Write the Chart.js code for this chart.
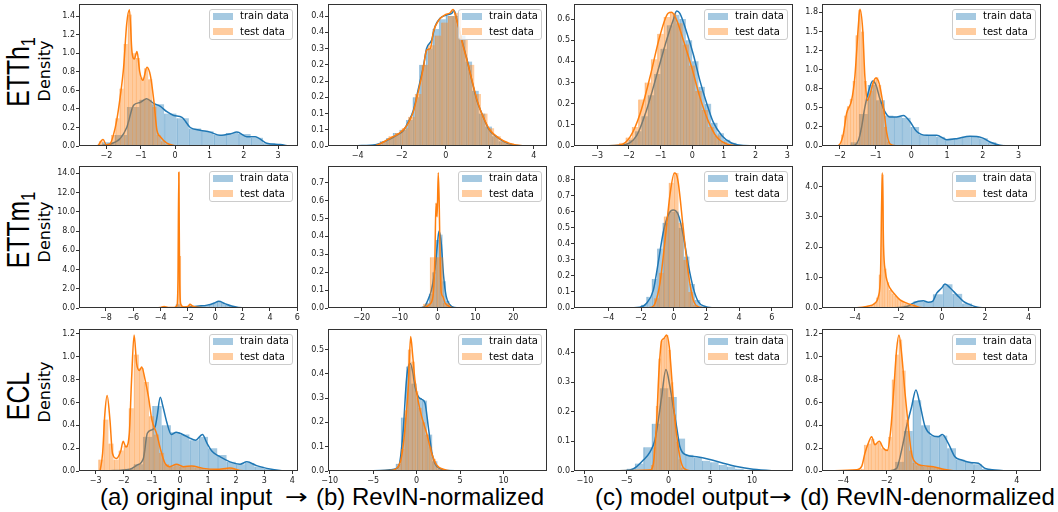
<!DOCTYPE html>
<html lang="en">
<head>
<meta charset="UTF-8">
<title>RevIN train / test distributions</title>
<script src="https://cdn.jsdelivr.net/npm/chart.js"></script>
<style>
  html, body { margin: 0; padding: 0; background: #fff; }
  #fig { position: relative; width: 1058px; height: 512px; overflow: hidden; }
  canvas { position: absolute; }
  .legend { position: absolute; width: 84px; height: 31px; box-sizing: border-box; border: 1px solid #ccc;
            border-radius: 3px; background: rgba(255,255,255,0.8); font-family: 'DejaVu Sans', sans-serif;
            font-size: 10px; color: #000; }
  .legend .patch { position: absolute; left: 3px; width: 20px; height: 7px; }
  .legend .lab { position: absolute; left: 30px; line-height: 12px; white-space: nowrap; }
  .rot { position: absolute; white-space: nowrap; line-height: 1; }
  .row { font-family: 'Liberation Sans', Arial, sans-serif; font-size: 31px; color: #000;
         transform: translate(-50%, -50%) rotate(-90deg) scaleX(0.8); }
  .row span { font-size: 0.65em; position: relative; top: 0.3em; }
  .dens { font-family: 'DejaVu Sans', sans-serif; font-size: 16px; color: #000;
          transform: translate(-50%, -50%) rotate(-90deg); }
  .cap { position: absolute; top: 485px; font-family: 'Liberation Sans', Arial, sans-serif; font-size: 24px;
         line-height: 24px; white-space: nowrap; color: #000; }
  .arrow { position: absolute; top: 485px; font-family: 'DejaVu Sans', sans-serif; font-size: 21px;
           line-height: 24px; color: #000; transform: scaleX(1.3); transform-origin: left center; }
</style>
</head>
<body>
<div id="fig">
  <div class="rot row" style="left:18px; top:72px">ETTh<span>1</span></div>
  <div class="rot dens" style="left:45px; top:71px">Density</div>
  <div class="rot row" style="left:18px; top:230px">ETTm<span>1</span></div>
  <div class="rot dens" style="left:45px; top:232px">Density</div>
  <div class="rot row" style="left:18px; top:396px">ECL</div>
  <div class="rot dens" style="left:45px; top:392px">Density</div>

  <div class="cap" style="left:100px">(a) original input</div>
  <div class="arrow" style="left:285px">→</div>
  <div class="cap" style="left:316px">(b) RevIN-normalized</div>
  <div class="cap" style="left:595px">(c) model output</div>
  <div class="arrow" style="left:769px">→</div>
  <div class="cap" style="left:800px">(d) RevIN-denormalized</div>
</div>

<script>
    const seriesNames = ['train data', 'test data'];

    // ---------- ETTh1 ----------
    // bins are [first left edge, bin width]
    const ethATrainBins = [-2.48, 0.36];
    const ethATrainHist = [0.01, 0.04, 0.12, 0.42, 0.50, 0.45, 0.35, 0.30, 0.19, 0.16, 0.12, 0.14, 0.13, 0.09, 0.03, 0.01];
    const ethATestBins = [-2.22, 0.12];
    const ethATestHist = [0.05, 0.02, 0.03, 0.12, 0.30, 0.62, 1.10, 1.42, 1.00, 0.95, 0.74, 0.84, 0.72, 0.42, 0.12, 0.05, 0.02, 0.01];
    const ethATrainKde = [[-2.5,0],[-2.3,0.003],[-1.9,0.02],[-1.6,0.08],[-1.41,0.2],[-1.21,0.44],[-1.02,0.47],[-0.83,0.51],[-0.63,0.46],[-0.44,0.43],[-0.24,0.37],[-0.04,0.33],[0.2,0.31],[0.44,0.2],[0.73,0.17],[1.02,0.15],[1.31,0.115],[1.6,0.13],[1.8,0.15],[2.09,0.1],[2.33,0.1],[2.67,0.03],[3.06,0.015],[3.3,0]];
    const ethATestKde = [[-2.25,0],[-2.1,0.07],[-2.0,0.01],[-1.9,0.02],[-1.8,0.115],[-1.7,0.28],[-1.6,0.53],[-1.5,0.85],[-1.41,1.32],[-1.33,1.47],[-1.26,1.03],[-1.19,0.94],[-1.11,1.02],[-1.03,0.8],[-0.94,0.71],[-0.82,0.85],[-0.72,0.76],[-0.62,0.49],[-0.53,0.17],[-0.43,0.1],[-0.24,0.03],[-0.04,0.005],[0.1,0]];
    const ethAXTicks = [-2, -1, 0, 1, 2, 3];
    const ethAYTicks = [0, 0.2, 0.4, 0.6, 0.8, 1.0, 1.2, 1.4];
    const ethAYLabels = ['0.0', '0.2', '0.4', '0.6', '0.8', '1.0', '1.2', '1.4'];

    const ethBTrainBins = [-3.3, 0.3];
    const ethBTrainHist = [0.005, 0.015, 0.025, 0.04, 0.05, 0.08, 0.15, 0.25, 0.30, 0.36, 0.39, 0.40, 0.40, 0.34, 0.26, 0.17, 0.10, 0.06, 0.03, 0.015, 0.008, 0.004, 0.002];
    const ethBTestBins = [-3.2, 0.3];
    const ethBTestHist = [0.005, 0.015, 0.03, 0.04, 0.055, 0.09, 0.16, 0.25, 0.31, 0.34, 0.38, 0.40, 0.41, 0.33, 0.25, 0.16, 0.10, 0.055, 0.03, 0.015, 0.008, 0.004, 0.002];
    const ethBTrainKde = [[-5.1,0],[-4,0.001],[-3.14,0.005],[-2.68,0.017],[-2.23,0.033],[-1.92,0.048],[-1.7,0.074],[-1.47,0.11],[-1.24,0.177],[-1.02,0.244],[-0.87,0.30],[-0.64,0.326],[-0.49,0.367],[-0.26,0.393],[0.04,0.403],[0.27,0.408],[0.38,0.417],[0.5,0.388],[0.73,0.326],[0.95,0.27],[1.18,0.203],[1.41,0.141],[1.64,0.10],[1.94,0.053],[2.32,0.028],[2.77,0.009],[3.38,0.001],[4.0,0]];
    const ethBTestKde = [[-3.2,0],[-2.9,0.01],[-2.5,0.025],[-2.1,0.04],[-1.8,0.06],[-1.5,0.1],[-1.24,0.17],[-1.02,0.24],[-0.87,0.295],[-0.7,0.30],[-0.56,0.352],[-0.31,0.388],[-0.05,0.403],[0.2,0.41],[0.33,0.42],[0.45,0.40],[0.6,0.36],[0.82,0.30],[1.0,0.255],[1.2,0.2],[1.45,0.135],[1.7,0.09],[2.0,0.05],[2.4,0.025],[2.9,0.008],[3.5,0.001],[4.2,0]];
    const ethBXTicks = [-4, -2, 0, 2, 4];
    const ethBYTicks = [0, 0.05, 0.10, 0.15, 0.20, 0.25, 0.30, 0.35, 0.40];
    const ethBYLabels = ['0.0', '0.1', '0.1', '0.2', '0.2', '0.2', '0.3', '0.4', '0.4'];

    const ethCTrainBins = [-2.4, 0.2];
    const ethCTrainHist = [0.005, 0.01, 0.03, 0.07, 0.14, 0.24, 0.34, 0.46, 0.57, 0.62, 0.60, 0.50, 0.40, 0.28, 0.20, 0.11, 0.06, 0.03, 0.015, 0.005, 0.002];
    const ethCTestBins = [-2.5, 0.2];
    const ethCTestHist = [0.005, 0.015, 0.04, 0.09, 0.22, 0.30, 0.41, 0.53, 0.61, 0.63, 0.58, 0.48, 0.38, 0.26, 0.17, 0.09, 0.05, 0.02, 0.008, 0.002];
    const ethCTrainKde = [[-3.4,0],[-2.17,0.005],[-1.75,0.05],[-1.44,0.17],[-1.12,0.335],[-0.81,0.5],[-0.6,0.595],[-0.49,0.638],[-0.39,0.627],[-0.18,0.54],[0.04,0.43],[0.24,0.31],[0.46,0.2],[0.66,0.114],[0.93,0.05],[1.24,0.014],[1.61,0.002],[2.9,0]];
    const ethCTestKde = [[-3.3,0],[-2.28,0.005],[-1.96,0.043],[-1.65,0.15],[-1.33,0.327],[-1.02,0.52],[-0.76,0.627],[-0.65,0.632],[-0.49,0.595],[-0.28,0.5],[-0.02,0.374],[0.24,0.232],[0.5,0.12],[0.77,0.043],[1.08,0.01],[1.4,0.001],[2.8,0]];
    const ethCXTicks = [-3, -2, -1, 0, 1, 2, 3];
    const ethCYTicks = [0, 0.1, 0.2, 0.3, 0.4, 0.5, 0.6];
    const ethCYLabels = ['0.0', '0.1', '0.2', '0.3', '0.4', '0.5', '0.6'];

    const ethDTrainBins = [-1.7, 0.24];
    const ethDTrainHist = [0.05, 0.42, 0.80, 0.60, 0.40, 0.38, 0.37, 0.25, 0.15, 0.14, 0.12, 0.09, 0.10, 0.12, 0.12, 0.10, 0.05, 0.015, 0.005, 0.002, 0.001];
    const ethDTestBins = [-2.04, 0.08];
    const ethDTestHist = [0.02, 0.15, 0.40, 0.52, 0.62, 0.85, 1.45, 1.78, 1.50, 0.85, 0.62, 0.72, 0.86, 0.90, 0.80, 0.55, 0.25, 0.06, 0.01];
    const ethDTrainKde = [[-2.2,0],[-1.62,0.005],[-1.48,0.075],[-1.39,0.25],[-1.3,0.51],[-1.2,0.71],[-1.08,0.85],[-0.99,0.8],[-0.88,0.62],[-0.74,0.45],[-0.6,0.38],[-0.41,0.38],[-0.22,0.40],[-0.04,0.32],[0.15,0.19],[0.43,0.14],[0.71,0.14],[0.99,0.083],[1.27,0.096],[1.64,0.127],[1.97,0.11],[2.2,0.053],[2.48,0.01],[2.76,0.002],[3.3,0]];
    const ethDTestKde = [[-2.2,0],[-2.05,0.005],[-1.91,0.14],[-1.81,0.43],[-1.67,0.6],[-1.58,0.91],[-1.48,1.59],[-1.44,1.79],[-1.36,1.52],[-1.3,0.91],[-1.23,0.6],[-1.16,0.67],[-1.06,0.84],[-0.99,0.89],[-0.9,0.82],[-0.78,0.51],[-0.69,0.18],[-0.6,0.03],[-0.41,0.002],[-0.3,0]];
    const ethDXTicks = [-2, -1, 0, 1, 2, 3];
    const ethDYTicks = [0, 0.25, 0.5, 0.75, 1.0, 1.25, 1.5, 1.75];
    const ethDYLabels = ['0.0', '0.2', '0.5', '0.8', '1.0', '1.2', '1.5', '1.8'];

    // ---------- ETTm1 ----------
    const etmATrainBins = [-4.4, 0.3];
    const etmATrainHist = [0.01, 0.01, 0.02, 0.02, 0.03, 0.40, 0.05, 0.07, 0.11, 0.15, 0.19, 0.24, 0.30, 0.40, 0.56, 0.68, 0.52, 0.36, 0.20, 0.10, 0.04, 0.01];
    const etmATestBins = [-4.0, 0.1];
    const etmATestHist = [0.02, 0.08, 0.15, 0.1, 0.05, 0.04, 0.04, 0.05, 0.05, 0.06, 0.1, 0.2, 0.5, 14.1, 5.4, 0.2, 0.1, 0.1, 0.12, 0.15, 0.25, 0.38, 0.3, 0.18, 0.12, 0.08, 0.06, 0.04];
    const etmATrainKde = [[-9.2,0],[-4,0.01],[-2.5,0.05],[-1.8,0.12],[-1.2,0.2],[-0.6,0.3],[-0.1,0.5],[0.25,0.7],[0.7,0.45],[1.2,0.2],[1.7,0.06],[2.3,0.01],[3.5,0],[5.8,0]];
    const etmATestKde = [[-6,0],[-4.5,0.01],[-4,0.05],[-3.75,0.15],[-3.45,0.06],[-3.0,0.06],[-2.8,0.3],[-2.73,3.0],[-2.67,14.1],[-2.61,3.0],[-2.52,0.4],[-2.3,0.1],[-2.0,0.15],[-1.85,0.38],[-1.65,0.2],[-1.3,0.08],[-0.8,0.03],[0,0.005],[1,0]];
    const etmAXTicks = [-8, -6, -4, -2, 0, 2, 4, 6];
    const etmAYTicks = [0, 2, 4, 6, 8, 10, 12, 14];
    const etmAYLabels = ['0.0', '2.0', '4.0', '6.0', '8.0', '10.0', '12.0', '14.0'];

    const etmBTrainBins = [-4.05, 0.9];
    const etmBTrainHist = [0.01, 0.03, 0.08, 0.2, 0.38, 0.41, 0.15, 0.04, 0.01, 0.003];
    const etmBTestBins = [-5.5, 1.76];
    const etmBTestHist = [0.003, 0.024, 0.284, 0.284, 0.028, 0.004];
    const etmBTrainKde = [[-26,0],[-8,0.001],[-4,0.003],[-3.4,0.008],[-2.5,0.046],[-1.6,0.1],[-0.7,0.21],[-0.1,0.34],[0.4,0.43],[1.0,0.36],[1.6,0.18],[2.3,0.065],[3.2,0.02],[4.5,0.003],[8,0.001],[26,0]];
    const etmBTestKde = [[-26,0],[-8,0.001],[-3.4,0.003],[-2.1,0.02],[-1.2,0.065],[-0.7,0.27],[-0.4,0.585],[-0.1,0.51],[0.2,0.756],[0.45,0.585],[0.7,0.27],[1.0,0.084],[1.4,0.065],[2.0,0.028],[3.0,0.01],[4,0.002],[8,0.001],[26,0]];
    const etmBXTicks = [-20, -10, 0, 10, 20];
    const etmBYTicks = [0, 0.1, 0.2, 0.3, 0.4, 0.5, 0.6, 0.7];
    const etmBYLabels = ['0.0', '0.1', '0.2', '0.3', '0.4', '0.5', '0.6', '0.7'];

    const etmCTrainBins = [-2.0, 0.33];
    const etmCTrainHist = [0.02, 0.07, 0.18, 0.37, 0.53, 0.60, 0.60, 0.50, 0.32, 0.15, 0.05, 0.015];
    const etmCTestBins = [-1.5, 0.3];
    const etmCTestHist = [0.01, 0.06, 0.22, 0.57, 0.78, 0.84, 0.53, 0.30, 0.10, 0.02];
    const etmCTrainKde = [[-5.5,0],[-3,0.001],[-2.07,0.005],[-1.66,0.03],[-1.25,0.11],[-0.95,0.28],[-0.64,0.47],[-0.33,0.58],[-0.03,0.61],[0.28,0.58],[0.58,0.455],[0.89,0.27],[1.2,0.124],[1.5,0.04],[1.91,0.01],[2.4,0.002],[3.5,0],[6.8,0]];
    const etmCTestKde = [[-5.5,0],[-1.45,0.002],[-1.14,0.03],[-0.84,0.155],[-0.53,0.42],[-0.22,0.71],[0.04,0.84],[0.15,0.835],[0.28,0.78],[0.58,0.5],[0.89,0.22],[1.2,0.05],[1.6,0.005],[2.0,0],[6.8,0]];
    const etmCXTicks = [-4, -2, 0, 2, 4, 6];
    const etmCYTicks = [0, 0.1, 0.2, 0.3, 0.4, 0.5, 0.6, 0.7, 0.8];
    const etmCYLabels = ['0.0', '0.1', '0.2', '0.3', '0.4', '0.5', '0.6', '0.7', '0.8'];

    const etmDTrainBins = [-2.2, 0.45];
    const etmDTrainHist = [0.02, 0.08, 0.22, 0.20, 0.45, 0.78, 0.47, 0.15, 0.03];
    const etmDTestBins = [-3.5, 0.12];
    const etmDTestHist = [0.04, 0.06, 0.1, 0.16, 0.35, 1.1, 4.4, 1.3, 0.85, 0.6, 0.48, 0.4, 0.32, 0.26, 0.2, 0.16, 0.13, 0.1, 0.08, 0.05];
    const etmDTrainKde = [[-2.4,0],[-1.61,0.05],[-1.31,0.16],[-1.08,0.22],[-0.85,0.24],[-0.62,0.19],[-0.42,0.22],[-0.23,0.49],[0.0,0.66],[0.15,0.79],[0.39,0.66],[0.69,0.44],[1.0,0.22],[1.3,0.11],[1.61,0.03],[1.92,0.005],[2.2,0]];
    const etmDTestKde = [[-5.2,0],[-3.92,0.01],[-3.46,0.05],[-3.08,0.16],[-2.92,0.38],[-2.82,1.15],[-2.74,4.46],[-2.68,2.0],[-2.6,1.2],[-2.5,0.85],[-2.39,0.66],[-2.15,0.44],[-1.92,0.27],[-1.61,0.16],[-1.31,0.09],[-1.0,0.02],[-0.54,0]];
    const etmDXTicks = [-4, -2, 0, 2, 4];
    const etmDYTicks = [0, 1, 2, 3, 4];
    const etmDYLabels = ['0.0', '1.0', '2.0', '3.0', '4.0'];

    // ---------- ECL ----------
    const eclATrainBins = [-2.3, 0.33];
    const eclATrainHist = [0.005, 0.02, 0.06, 0.30, 0.57, 0.40, 0.34, 0.32, 0.27, 0.30, 0.20, 0.14, 0.08, 0.06, 0.07, 0.04, 0.02, 0.005];
    const eclATestBins = [-2.9, 0.18];
    const eclATestHist = [0.1, 0.45, 0.24, 0.1, 0.18, 0.22, 0.55, 1.02, 0.90, 0.78, 0.48, 0.32, 0.16, 0.06, 0.04, 0.05, 0.04, 0.04, 0.04, 0.03, 0.02, 0.015, 0.015, 0.015, 0.02, 0.025, 0.02];
    const eclATrainKde = [[-3.2,0],[-2.49,0.003],[-1.78,0.015],[-1.54,0.05],[-1.3,0.11],[-1.16,0.33],[-1.0,0.36],[-0.88,0.39],[-0.81,0.48],[-0.7,0.645],[-0.6,0.56],[-0.46,0.42],[-0.31,0.32],[-0.13,0.34],[0.1,0.32],[0.33,0.29],[0.56,0.27],[0.8,0.32],[0.97,0.24],[1.15,0.17],[1.42,0.125],[1.78,0.08],[2.14,0.06],[2.38,0.08],[2.73,0.047],[3.09,0.023],[3.56,0.005],[3.8,0]];
    const eclATestKde = [[-2.84,0],[-2.75,0.155],[-2.67,0.5],[-2.59,0.66],[-2.49,0.45],[-2.4,0.155],[-2.26,0.11],[-2.11,0.17],[-2.02,0.26],[-1.92,0.21],[-1.8,0.33],[-1.72,0.8],[-1.63,1.19],[-1.54,0.94],[-1.44,0.88],[-1.36,0.91],[-1.24,0.8],[-1.12,0.65],[-1.0,0.45],[-0.82,0.32],[-0.68,0.18],[-0.53,0.067],[-0.36,0.038],[-0.12,0.06],[0.12,0.038],[0.42,0.044],[0.83,0.023],[1.31,0.015],[1.78,0.026],[2.14,0.005],[2.6,0]];
    const eclAXTicks = [-3, -2, -1, 0, 1, 2, 3, 4];
    const eclAYTicks = [0, 0.2, 0.4, 0.6, 0.8, 1.0, 1.2];
    const eclAYLabels = ['0.0', '0.2', '0.4', '0.6', '0.8', '1.0', '1.2'];

    const eclBTrainBins = [-3.0, 0.6];
    const eclBTrainHist = [0.005, 0.03, 0.22, 0.43, 0.36, 0.30, 0.29, 0.15, 0.04, 0.01, 0.002];
    const eclBTestBins = [-2.6, 0.4];
    const eclBTestHist = [0.005, 0.03, 0.09, 0.25, 0.50, 0.45, 0.33, 0.26, 0.20, 0.15, 0.10, 0.05, 0.02, 0.007];
    const eclBTrainKde = [[-9,0],[-5,0.001],[-3.08,0.005],[-2.31,0.011],[-1.93,0.038],[-1.54,0.17],[-1.16,0.38],[-0.77,0.443],[-0.46,0.41],[-0.2,0.347],[0.19,0.306],[0.58,0.295],[0.96,0.28],[1.34,0.182],[1.73,0.08],[2.11,0.03],[2.69,0.01],[3.46,0.002],[6,0.001],[13,0]];
    const eclBTestKde = [[-9,0],[-3.08,0.002],[-2.12,0.018],[-1.73,0.06],[-1.35,0.17],[-0.96,0.347],[-0.69,0.553],[-0.46,0.477],[-0.2,0.375],[0.19,0.285],[0.58,0.224],[1.15,0.155],[1.73,0.073],[2.3,0.025],[3.07,0.007],[3.84,0.001],[13,0]];
    const eclBXTicks = [-10, -5, 0, 5, 10];
    const eclBYTicks = [0, 0.1, 0.2, 0.3, 0.4, 0.5];
    const eclBYLabels = ['0.0', '0.1', '0.2', '0.3', '0.4', '0.5'];

    const eclCTrainBins = [-5.0, 1.0];
    const eclCTrainHist = [0.008, 0.025, 0.08, 0.16, 0.28, 0.25, 0.11, 0.055, 0.045, 0.035, 0.03, 0.02, 0.015, 0.008, 0.004];
    const eclCTestBins = [-2.4, 0.3];
    const eclCTestHist = [0.005, 0.02, 0.08, 0.22, 0.38, 0.44, 0.45, 0.46, 0.41, 0.30, 0.19, 0.10, 0.04, 0.012, 0.003];
    const eclCTrainKde = [[-10.5,0],[-6,0.001],[-4.6,0.003],[-3.8,0.015],[-3.0,0.037],[-2.2,0.065],[-1.61,0.105],[-1.21,0.172],[-0.82,0.25],[-0.3,0.343],[0.18,0.285],[0.57,0.217],[0.97,0.15],[1.37,0.082],[2.16,0.054],[3.36,0.048],[4.95,0.039],[6.55,0.026],[8.14,0.015],[10.13,0.006],[12.5,0.001],[13.5,0]];
    const eclCTestKde = [[-10.5,0],[-2.2,0.003],[-1.8,0.026],[-1.41,0.172],[-1.13,0.34],[-0.82,0.44],[-0.54,0.448],[-0.22,0.46],[0.1,0.42],[0.38,0.32],[0.7,0.195],[1.05,0.105],[1.45,0.037],[1.85,0.009],[2.57,0.001],[13.5,0]];
    const eclCXTicks = [-10, -5, 0, 5, 10];
    const eclCYTicks = [0, 0.1, 0.2, 0.3, 0.4];
    const eclCYLabels = ['0.0', '0.1', '0.2', '0.3', '0.4'];

    const eclDTrainBins = [-2.0, 0.4];
    const eclDTrainHist = [0.005, 0.08, 0.35, 0.62, 0.40, 0.31, 0.31, 0.20, 0.10, 0.08, 0.06, 0.02, 0.005];
    const eclDTestBins = [-3.2, 0.16];
    const eclDTestHist = [0.02, 0.23, 0.24, 0.28, 0.24, 0.25, 0.20, 0.19, 0.30, 0.80, 1.02, 1.15, 0.88, 0.45, 0.18, 0.07, 0.05, 0.05, 0.04, 0.04, 0.04, 0.03, 0.03, 0.02, 0.01];
    const eclDTrainKde = [[-1.92,0],[-1.54,0.023],[-1.31,0.18],[-1.08,0.39],[-0.85,0.56],[-0.65,0.71],[-0.46,0.58],[-0.23,0.39],[0.08,0.315],[0.38,0.3],[0.57,0.32],[0.85,0.24],[1.15,0.125],[1.46,0.096],[1.92,0.073],[2.23,0.067],[2.54,0.023],[3.0,0.009],[3.6,0]];
    const eclDTestKde = [[-4.46,0.003],[-3.38,0.01],[-3.15,0.04],[-3.0,0.155],[-2.85,0.24],[-2.69,0.3],[-2.54,0.23],[-2.34,0.26],[-2.15,0.2],[-1.97,0.18],[-1.81,0.36],[-1.66,0.74],[-1.54,1.06],[-1.43,1.19],[-1.31,1.03],[-1.15,0.68],[-1.0,0.39],[-0.85,0.155],[-0.62,0.067],[-0.31,0.047],[0.15,0.038],[0.62,0.015],[1.08,0.003],[1.54,0]];
    const eclDXTicks = [-4, -2, 0, 2, 4];
    const eclDYTicks = [0, 0.2, 0.4, 0.6, 0.8, 1.0, 1.2];
    const eclDYLabels = ['0.0', '0.2', '0.4', '0.6', '0.8', '1.0', '1.2'];

    // ---------- layout ----------
    const colLeft = [79, 328, 574, 822];
    const rowTop = [4, 166, 329];
    const plotW = 219, plotH = 142;
    const axisW = 40, axisH = 20, padTop = 6, padRight = 10;

    const panels = [
        {row: 0, col: 0, x: [-2.8, 3.58], ymax: 1.533, trB: ethATrainBins, trH: ethATrainHist, teB: ethATestBins, teH: ethATestHist, trK: ethATrainKde, teK: ethATestKde, xt: ethAXTicks, yt: ethAYTicks, yl: ethAYLabels},
        {row: 0, col: 1, x: [-5.35, 4.6], ymax: 0.437, trB: ethBTrainBins, trH: ethBTrainHist, teB: ethBTestBins, teH: ethBTestHist, trK: ethBTrainKde, teK: ethBTestKde, xt: ethBXTicks, yt: ethBYTicks, yl: ethBYLabels},
        {row: 0, col: 2, x: [-3.73, 3.18], ymax: 0.671, trB: ethCTrainBins, trH: ethCTrainHist, teB: ethCTestBins, teH: ethCTestHist, trK: ethCTrainKde, teK: ethCTestKde, xt: ethCXTicks, yt: ethCYTicks, yl: ethCYLabels},
        {row: 0, col: 3, x: [-2.5, 3.63], ymax: 1.86, trB: ethDTrainBins, trH: ethDTrainHist, teB: ethDTestBins, teH: ethDTestHist, trK: ethDTrainKde, teK: ethDTestKde, xt: ethDXTicks, yt: ethDYTicks, yl: ethDYLabels},
        {row: 1, col: 0, x: [-9.97, 6.05], ymax: 14.76, trB: etmATrainBins, trH: etmATrainHist, teB: etmATestBins, teH: etmATestHist, trK: etmATrainKde, teK: etmATestKde, xt: etmAXTicks, yt: etmAYTicks, yl: etmAYLabels},
        {row: 1, col: 1, x: [-28.9, 28.9], ymax: 0.793, trB: etmBTrainBins, trH: etmBTrainHist, teB: etmBTestBins, teH: etmBTestHist, trK: etmBTrainKde, teK: etmBTestKde, xt: etmBXTicks, yt: etmBYTicks, yl: etmBYLabels},
        {row: 1, col: 2, x: [-6.1, 7.3], ymax: 0.884, trB: etmCTrainBins, trH: etmCTrainHist, teB: etmCTestBins, teH: etmCTestHist, trK: etmCTrainKde, teK: etmCTestKde, xt: etmCXTicks, yt: etmCYTicks, yl: etmCYLabels},
        {row: 1, col: 3, x: [-5.52, 4.58], ymax: 4.68, trB: etmDTrainBins, trH: etmDTrainHist, teB: etmDTestBins, teH: etmDTestHist, trK: etmDTrainKde, teK: etmDTestKde, xt: etmDXTicks, yt: etmDYTicks, yl: etmDYLabels},
        {row: 2, col: 0, x: [-3.59, 4.2], ymax: 1.243, trB: eclATrainBins, trH: eclATrainHist, teB: eclATestBins, teH: eclATestHist, trK: eclATrainKde, teK: eclATestKde, xt: eclAXTicks, yt: eclAYTicks, yl: eclAYLabels},
        {row: 2, col: 1, x: [-10.2, 15.0], ymax: 0.584, trB: eclBTrainBins, trH: eclBTrainHist, teB: eclBTestBins, teH: eclBTestHist, trK: eclBTrainKde, teK: eclBTestKde, xt: eclBXTicks, yt: eclBYTicks, yl: eclBYLabels},
        {row: 2, col: 2, x: [-11.3, 14.9], ymax: 0.48, trB: eclCTrainBins, trH: eclCTrainHist, teB: eclCTestBins, teH: eclCTestHist, trK: eclCTrainKde, teK: eclCTestKde, xt: eclCXTicks, yt: eclCYTicks, yl: eclCYLabels},
        {row: 2, col: 3, x: [-4.98, 5.12], ymax: 1.243, trB: eclDTrainBins, trH: eclDTrainHist, teB: eclDTestBins, teH: eclDTestHist, trK: eclDTrainKde, teK: eclDTestKde, xt: eclDXTicks, yt: eclDYTicks, yl: eclDYLabels}
    ];

    const BLUE = '#1f77b4', ORANGE = '#ff7f0e';
    const BLUE_FILL = 'rgba(31,119,180,0.4)', ORANGE_FILL = 'rgba(255,127,14,0.4)';
    const tickFont = {family: 'DejaVu Sans', size: 8};

    function bars(bins, hist) {
        return hist.map((v, i) => ({x: bins[0] + (i + 0.5) * bins[1], y: v}));
    }
    function pts(kde) {
        return kde.map(p => ({x: p[0], y: p[1]}));
    }
    function fmtMinus(v) {
        return v < 0 ? '\u2212' + Math.abs(v) : String(v);
    }

    // matplotlib-like box around the axes
    const frame = {
        id: 'frame',
        afterDraw(chart) {
            const a = chart.chartArea, ctx = chart.ctx;
            ctx.save();
            ctx.strokeStyle = '#333';
            ctx.lineWidth = 1;
            ctx.strokeRect(a.left + 0.5, a.top + 0.5, a.right - a.left - 1, a.bottom - a.top - 1);
            ctx.restore();
        }
    };

    const fig = document.getElementById('fig');

    panels.forEach(p => {
        const left = colLeft[p.col], top = rowTop[p.row];
        const cv = document.createElement('canvas');
        cv.width = axisW + plotW + padRight;
        cv.height = padTop + plotH + axisH;
        cv.style.left = (left - axisW) + 'px';
        cv.style.top = (top - padTop) + 'px';
        fig.appendChild(cv);

        // thin edge only on the left side of each bin, like the faint hist edges
        const barStyle = {type: 'bar', grouped: false, barPercentage: 1, categoryPercentage: 1,
                          borderWidth: {left: 0.7, right: 0, top: 0, bottom: 0}};

        new Chart(cv, {
            type: 'bar',
            data: {
                datasets: [
                    Object.assign({label: seriesNames[0], data: bars(p.trB, p.trH), xAxisID: 'x',
                        backgroundColor: BLUE_FILL, borderColor: 'rgba(31,119,180,0.32)', order: 4}, barStyle),
                    {type: 'line', data: pts(p.trK), xAxisID: 'x', borderColor: BLUE, borderWidth: 1.5,
                        pointRadius: 0, fill: false, cubicInterpolationMode: 'monotone', order: 3},
                    Object.assign({label: seriesNames[1], data: bars(p.teB, p.teH), xAxisID: 'xb',
                        backgroundColor: ORANGE_FILL, borderColor: 'rgba(255,127,14,0.35)', order: 2}, barStyle),
                    {type: 'line', data: pts(p.teK), xAxisID: 'x', borderColor: ORANGE, borderWidth: 1.5,
                        pointRadius: 0, fill: false, cubicInterpolationMode: 'monotone', order: 1}
                ]
            },
            options: {
                responsive: false,
                animation: false,
                events: [],
                layout: {padding: {top: padTop, right: padRight, left: 0, bottom: 0}},
                plugins: {legend: {display: false}, tooltip: {enabled: false}},
                scales: {
                    x: {
                        type: 'linear', position: 'bottom', min: p.x[0], max: p.x[1], offset: false,
                        grid: {offset: false, drawOnChartArea: false, tickLength: 3, color: '#333'},
                        border: {display: false},
                        ticks: {font: tickFont, color: '#222', padding: 2, maxRotation: 0, autoSkip: false,
                                callback: v => fmtMinus(v)},
                        afterBuildTicks: s => { s.ticks = p.xt.map(v => ({value: v})); },
                        afterFit: s => { s.height = axisH; }
                    },
                    xb: {
                        type: 'linear', position: 'bottom', display: false, min: p.x[0], max: p.x[1], offset: false,
                        afterBuildTicks: s => { s.ticks = p.xt.map(v => ({value: v})); }
                    },
                    y: {
                        type: 'linear', min: 0, max: p.ymax,
                        grid: {drawOnChartArea: false, tickLength: 3, color: '#333'},
                        border: {display: false},
                        ticks: {font: tickFont, color: '#222', padding: 1, autoSkip: false,
                                callback: (v, i) => p.yl[i]},
                        afterBuildTicks: s => { s.ticks = p.yt.map(v => ({value: v})); },
                        afterFit: s => { s.width = axisW; }
                    }
                }
            },
            plugins: [frame]
        });

        // legend box in the upper right corner of the axes
        const lg = document.createElement('div');
        lg.className = 'legend';
        lg.style.left = (left + plotW - 5 - 84) + 'px';
        lg.style.top = (top + 5) + 'px';
        lg.innerHTML =
            '<div class="patch" style="top:3px;background:' + BLUE_FILL + '"></div>' +
            '<div class="lab" style="top:0px">' + seriesNames[0] + '</div>' +
            '<div class="patch" style="top:18px;background:' + ORANGE_FILL + '"></div>' +
            '<div class="lab" style="top:15.5px">' + seriesNames[1] + '</div>';
        fig.appendChild(lg);
    });
</script>
</body>
</html>
